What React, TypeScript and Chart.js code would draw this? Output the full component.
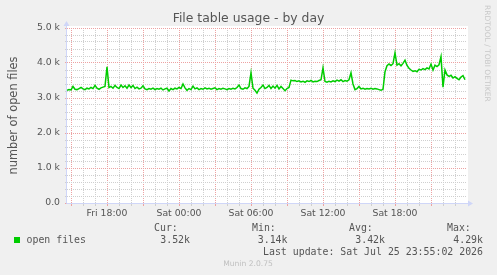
import React, { useEffect, useRef } from "react";
import { Chart, registerables } from "chart.js";

Chart.register(...registerables);

// ---- data (hours are counted from Fri 00:00) ----
const SAMPLE_START_HOUR = 14 + 40 / 60; // Fri 14:40
const SAMPLE_STEP_HOURS = 10 / 60; // 10 minutes
const AXIS_START_HOUR = 14 + 40 / 60;
const AXIS_END_HOUR = 48;

const openFiles = [
  3220, 3240, 3230, 3330, 3250, 3240, 3270, 3300, 3260, 3240,
  3280, 3260, 3300, 3270, 3360, 3280, 3250, 3290, 3310, 3330,
  3890, 3300, 3330, 3280, 3360, 3300, 3270, 3370, 3300, 3350,
  3280, 3370, 3300, 3360, 3270, 3310, 3260, 3280, 3350, 3260,
  3240, 3270, 3250, 3280, 3240, 3270, 3250, 3280, 3230, 3260,
  3280, 3200, 3270, 3240, 3280, 3260, 3300, 3270, 3400, 3290,
  3220, 3270, 3240, 3340, 3260, 3290, 3240, 3270, 3250, 3290,
  3260, 3280, 3250, 3270, 3290, 3240, 3270, 3250, 3280, 3260,
  3240, 3270, 3250, 3280, 3260, 3300, 3370, 3270, 3250, 3290,
  3270, 3330, 3720, 3280, 3220, 3140, 3250, 3300, 3370, 3270,
  3300, 3360, 3270, 3340, 3280, 3360, 3260, 3330, 3270, 3210,
  3270, 3300, 3510, 3490, 3500, 3470, 3490, 3460, 3480, 3450,
  3490, 3470, 3500, 3460, 3480, 3470, 3500, 3520, 3860, 3470,
  3450, 3480, 3460, 3490, 3470, 3510, 3480, 3520, 3470, 3500,
  3480, 3520, 3720, 3400, 3240, 3270, 3330, 3260, 3280, 3250,
  3270, 3260, 3280, 3250, 3270, 3260, 3240, 3220, 3250, 3750,
  3920, 3970, 3930, 3980, 4290, 3940, 3980, 3920, 3990, 4080,
  3930, 3850, 3800, 3760, 3780, 3750, 3820, 3800, 3840, 3810,
  3860, 3830, 3970, 3800, 3940, 3900, 3950, 4180, 3310, 3800,
  3660, 3620, 3650, 3570, 3610, 3560, 3520, 3600, 3640, 3520,
];

const yLabelValues = [0, 1000, 2000, 3000, 4000, 5000];
const yTickLabels = ["0.0", "1.0 k", "2.0 k", "3.0 k", "4.0 k", "5.0 k"];
const xLabelHours = [18, 24, 30, 36, 42];
const xTickLabels = ["Fri 18:00", "Sat 00:00", "Sat 06:00", "Sat 12:00", "Sat 18:00"];

const chartTitle = "File table usage - by day";
const yAxisTitle = "number of open files";
const seriesName = "open files";
const statHeaders = ["Cur:", "Min:", "Avg:", "Max:"];
const statValues = ["3.52k", "3.14k", "3.42k", "4.29k"];
const lastUpdate = "Last update: Sat Jul 25 23:55:02 2026";
const footer = "Munin 2.0.75";
const watermark = "RRDTOOL / TOBI OETIKER";

// ---- styles ----
const SANS = "'DejaVu Sans', sans-serif";
const MONO = "'DejaVu Sans Mono', monospace";
const FONT_COLOR = "#555555";
const LINE_COLOR = "#00cc00";
const MAJOR_GRID = "#eda2a2";
const MINOR_GRID = "#cfcfcf";
const AXIS_COLOR = "#cfd6f8";

const decorPlugin = {
  id: "muninDecor",
  beforeDraw(chart: any) {
    const { ctx, chartArea } = chart;
    ctx.save();
    ctx.fillStyle = "#f0f0f0";
    ctx.fillRect(0, 0, chart.width, chart.height);
    ctx.fillStyle = "#ffffff";
    ctx.fillRect(
      chartArea.left - 1,
      chartArea.top - 2,
      chartArea.right - chartArea.left + 2,
      chartArea.bottom - chartArea.top + 2
    );
    ctx.restore();
  },
  afterDraw(chart: any) {
    const { ctx, chartArea } = chart;
    const L = Math.round(chartArea.left) - 0.5;
    const B = Math.round(chartArea.bottom) + 0.5;
    const T = chartArea.top;
    const R = chartArea.right;
    ctx.save();
    // axes
    ctx.strokeStyle = AXIS_COLOR;
    ctx.fillStyle = AXIS_COLOR;
    ctx.lineWidth = 1;
    ctx.beginPath();
    ctx.moveTo(L, B);
    ctx.lineTo(L, T - 3);
    ctx.moveTo(L, B);
    ctx.lineTo(R + 2, B);
    ctx.stroke();
    ctx.beginPath();
    ctx.moveTo(L, T - 7);
    ctx.lineTo(L - 3, T - 2);
    ctx.lineTo(L + 3, T - 2);
    ctx.closePath();
    ctx.fill();
    ctx.beginPath();
    ctx.moveTo(R + 6, B);
    ctx.lineTo(R + 1, B - 3);
    ctx.lineTo(R + 1, B + 3);
    ctx.closePath();
    ctx.fill();

    // title
    ctx.fillStyle = FONT_COLOR;
    ctx.font = `12.4px ${SANS}`;
    ctx.textAlign = "center";
    ctx.textBaseline = "middle";
    ctx.fillText(chartTitle, 248.5, 19);

    // y axis title
    ctx.save();
    ctx.translate(16.5, (chartArea.top + chartArea.bottom) / 2);
    ctx.rotate(-Math.PI / 2);
    ctx.font = `11.4px ${SANS}`;
    ctx.textAlign = "center";
    ctx.textBaseline = "alphabetic";
    ctx.fillText(yAxisTitle, 0, 0);
    ctx.restore();

    // watermark
    ctx.save();
    ctx.translate(485, 5);
    ctx.rotate(Math.PI / 2);
    ctx.fillStyle = "#c8c8c8";
    ctx.font = `7.5px ${SANS}`;
    ctx.textAlign = "left";
    ctx.textBaseline = "alphabetic";
    ctx.fillText(watermark, 0, 0);
    ctx.restore();

    // legend
    ctx.fillStyle = LINE_COLOR;
    ctx.fillRect(14, 237, 6, 6);
    ctx.fillStyle = FONT_COLOR;
    ctx.font = `9.9px ${MONO}`;
    ctx.textBaseline = "middle";
    ctx.textAlign = "left";
    ctx.fillText(seriesName, 26.5, 240);
    const headerX = [154, 252, 349, 447];
    const valueRight = [190, 287.5, 385, 483];
    statHeaders.forEach((h, i) => {
      ctx.textAlign = "left";
      ctx.fillText(h, headerX[i], 228.5);
      ctx.textAlign = "right";
      ctx.fillText(statValues[i], valueRight[i], 240);
    });
    ctx.textAlign = "right";
    ctx.fillText(lastUpdate, 483, 252);

    // footer
    ctx.fillStyle = "#c0c0c0";
    ctx.font = `7.6px ${SANS}`;
    ctx.textAlign = "center";
    ctx.fillText(footer, 248, 264);
    ctx.restore();
  },
};

export default function App() {
  const canvasRef = useRef<HTMLCanvasElement | null>(null);

  useEffect(() => {
    document.body.style.margin = "0";
    const canvas = canvasRef.current;
    if (!canvas) return;
    const points = openFiles.map((v, i) => ({
      x: SAMPLE_START_HOUR + i * SAMPLE_STEP_HOURS,
      y: v,
    }));

    const chart = new Chart(canvas, {
      type: "line",
      data: {
        datasets: [
          {
            label: seriesName,
            data: points,
            borderColor: LINE_COLOR,
            borderWidth: 1.5,
            pointRadius: 0,
            tension: 0,
            fill: false,
          },
        ],
      },
      options: {
        animation: false,
        responsive: false,
        devicePixelRatio: 1,
        layout: { padding: { top: 28, right: 30, left: 0, bottom: 0 } },
        plugins: {
          legend: { display: false },
          tooltip: { enabled: false },
          title: { display: false },
        },
        scales: {
          x: {
            type: "linear",
            min: AXIS_START_HOUR,
            max: AXIS_END_HOUR,
            afterBuildTicks: (scale: any) => {
              const t: any[] = [];
              for (let h = Math.ceil(AXIS_START_HOUR); h < AXIS_END_HOUR; h++) t.push({ value: h });
              scale.ticks = t;
            },
            afterFit: (scale: any) => {
              scale.height = 72;
            },
            ticks: {
              autoSkip: false,
              maxRotation: 0,
              minRotation: 0,
              padding: 2,
              color: FONT_COLOR,
              font: { family: SANS, size: 9.3 },
              callback: (v: any) => {
                const i = xLabelHours.indexOf(Number(v));
                return i >= 0 ? xTickLabels[i] : "";
              },
            },
            grid: {
              color: (c: any) => (c.tick && c.tick.value % 3 === 0 ? MAJOR_GRID : MINOR_GRID),
              lineWidth: 1,
              drawTicks: true,
              tickLength: 3,
            },
            border: { display: false, dash: [1, 1] },
          },
          y: {
            type: "linear",
            min: 0,
            max: 5000,
            afterBuildTicks: (scale: any) => {
              const t: any[] = [];
              for (let v = 0; v <= 5000; v += 200) t.push({ value: v });
              scale.ticks = t;
            },
            afterFit: (scale: any) => {
              scale.width = 67;
            },
            ticks: {
              autoSkip: false,
              padding: 5,
              color: FONT_COLOR,
              font: { family: SANS, size: 9.3 },
              callback: (v: any) => {
                const i = yLabelValues.indexOf(Number(v));
                return i >= 0 ? yTickLabels[i] : "";
              },
            },
            grid: {
              color: (c: any) => (c.tick && c.tick.value % 1000 === 0 ? MAJOR_GRID : MINOR_GRID),
              lineWidth: 1,
              drawTicks: true,
              tickLength: 2,
            },
            border: { display: false, dash: [1, 1] },
          },
        },
      },
      plugins: [decorPlugin],
    } as any);

    return () => chart.destroy();
  }, []);

  return (
    <div style={{ width: 497, height: 275 }}>
      <canvas ref={canvasRef} width={497} height={275} style={{ display: "block" }} />
    </div>
  );
}
